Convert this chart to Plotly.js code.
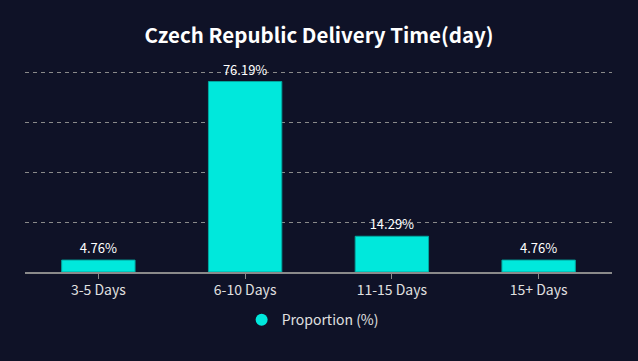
<!DOCTYPE html>
<html>
<head>
<meta charset="utf-8">
<script src="https://cdn.plot.ly/plotly-3.0.1.min.js"></script>
<style>
  html, body { margin: 0; padding: 0; background: #0f1227; }
  #chart { width: 638px; height: 361px; }
</style>
</head>
<body>
<div id="chart"></div>
<script>
const categories = ["3-5 Days", "6-10 Days", "11-15 Days", "15+ Days"];
const proportion = [4.76, 76.19, 14.29, 4.76];
const seriesName = "Proportion (%)";
const yTicks = [0, 20, 40, 60, 80];

const bg = "#0f1227";
const barColor = "#00e8dc";
const fontFam = "'Noto Sans CJK SC', 'Noto Sans', sans-serif";

const traces = [
  {
    type: "bar",
    x: categories,
    y: proportion,
    width: 0.5,
    name: seriesName,
    showlegend: false,
    marker: { color: barColor, line: { color: "#00a8a0", width: 1 } },
    text: proportion.map(v => v.toFixed(2) + "%"),
    textposition: "outside",
    cliponaxis: false,
    textfont: { color: "#ffffff", size: 13, family: fontFam },
    hoverinfo: "x+y"
  },
  {
    type: "scatter",
    mode: "markers",
    x: [null],
    y: [null],
    name: seriesName,
    marker: { color: barColor, size: 12, symbol: "circle" },
    showlegend: true
  }
];

const layout = {
  width: 638,
  height: 361,
  paper_bgcolor: bg,
  plot_bgcolor: bg,
  margin: { l: 25, r: 26, t: 67, b: 89 },
  font: { family: fontFam, color: "#e0e0e0" },
  title: {
    text: "<b>Czech Republic Delivery Time(day)</b>",
    font: { size: 20.5, color: "#ffffff", family: fontFam },
    x: 0.5, xanchor: "center",
    y: 0.9, yanchor: "middle"
  },
  xaxis: {
    type: "category",
    showline: true,
    linecolor: "#8a8a8a",
    linewidth: 1.5,
    ticks: "outside",
    ticklen: 5,
    tickcolor: "#8a8a8a",
    tickfont: { size: 14, color: "#e0e0e0", family: fontFam },
    showgrid: false,
    zeroline: false
  },
  yaxis: {
    range: [0, 82],
    tickvals: yTicks,
    showticklabels: false,
    showgrid: true,
    gridcolor: "#8a8a8a",
    griddash: "4px,4px",
    gridwidth: 1,
    zeroline: false,
    showline: false
  },
  legend: {
    orientation: "h",
    x: 0.49, xanchor: "center",
    y: -0.235, yanchor: "middle",
    font: { size: 14, color: "#e0e0e0", family: fontFam },
    itemwidth: 30
  },
  showlegend: true
};

Plotly.newPlot("chart", traces, layout, { displayModeBar: false, staticPlot: true });
</script>
</body>
</html>
